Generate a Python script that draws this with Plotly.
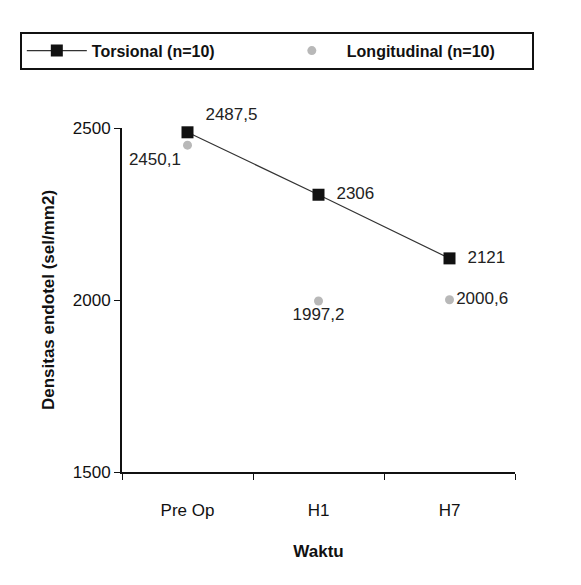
import plotly.graph_objects as go

# Endothelial cell density over time, two incision groups
waktu = ["Pre Op", "H1", "H7"]
torsional = [2487.5, 2306, 2121]
longitudinal = [2450.1, 1997.2, 2000.6]
y_ticks = [1500, 2000, 2500]


def fmt(v):
    s = f"{v:.1f}" if v != int(v) else f"{int(v)}"
    return s.replace(".", ",")


fig = go.Figure()

fig.add_trace(go.Scatter(
    x=waktu, y=longitudinal, name="<b>Longitudinal (n=10)</b>",
    mode="markers+text",
    marker=dict(symbol="circle", size=9, color="#b8b8b8"),
    text=[fmt(v) for v in longitudinal],
    textposition=["bottom left", "bottom center", "middle right"],
    textfont=dict(size=17, color="#222"),
    cliponaxis=False,
))

fig.add_trace(go.Scatter(
    x=waktu, y=torsional, name="<b>Torsional (n=10)</b>",
    mode="lines+markers+text",
    line=dict(color="#333", width=1.2),
    marker=dict(symbol="square", size=12, color="#111"),
    text=["  " + fmt(v) for v in torsional],
    textposition=["top right", "middle right", "middle right"],
    textfont=dict(size=17, color="#222"),
    cliponaxis=False,
))

fig.update_layout(
    width=581, height=585,
    margin=dict(l=122, r=66, t=128, b=113),
    paper_bgcolor="white", plot_bgcolor="white",
    font=dict(family="Liberation Sans, Arial, sans-serif", size=17, color="#111"),
    showlegend=True,
    legend=dict(
        orientation="h", traceorder="reversed",
        x=-0.26, y=1.28, xanchor="left", yanchor="top",
        bordercolor="#111", borderwidth=2,
        font=dict(size=16, color="#111"),
        entrywidth=180, itemwidth=60,
    ),
    xaxis=dict(
        type="category", range=[-0.5, 2.5],
        showline=True, linecolor="#111", linewidth=2,
        ticks="outside", tickson="boundaries", ticklen=6,
        tickcolor="#111", showgrid=False,
        tickfont=dict(size=17), ticklabelstandoff=22,
        title=dict(text="<b>Waktu</b>", font=dict(size=17), standoff=26),
    ),
    yaxis=dict(
        range=[1500, 2500], tickvals=y_ticks,
        showline=True, linecolor="#111", linewidth=2,
        ticks="outside", ticklen=6, tickcolor="#111",
        showgrid=False, zeroline=False,
        tickfont=dict(size=17),
        title=dict(text="<b>Densitas endotel (sel/mm2)</b>", font=dict(size=17), standoff=14),
    ),
)

fig.write_html("out.html")
